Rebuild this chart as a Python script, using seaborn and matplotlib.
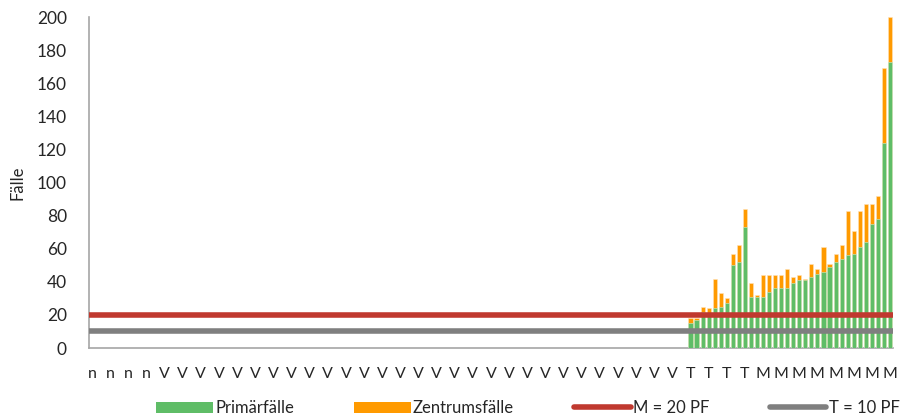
import numpy as np
import pandas as pd
import matplotlib
matplotlib.use("Agg")
import matplotlib.pyplot as plt
from matplotlib.patches import Patch
from matplotlib.lines import Line2D
import seaborn as sns

# Category groups along the x axis (one letter per site)
group_n = ["n"] * 12
group_v = ["V"] * 87
group_t = ["T"] * 12
group_m = ["M"] * 22
categories = group_n + group_v + group_t + group_m

# Case counts for the sites that report cases (T and M groups)
primaer = [15, 17, 22, 21, 24, 25, 27, 50, 52, 73, 31, 31,
           31, 34, 36, 36, 36, 39, 41, 41, 43, 45, 46, 49, 52, 54,
           56, 57, 61, 64, 75, 78, 124, 173]
zentrum = [3, 1, 3, 3, 18, 8, 3, 7, 10, 11, 8, 1,
           13, 10, 8, 8, 12, 4, 3, 1, 8, 3, 15, 2, 5, 8,
           27, 14, 22, 23, 12, 14, 45, 27]

schwelle_m = 20
schwelle_t = 10

yticks = list(range(0, 201, 20))

GREEN = "#5FBD67"
ORANGE = "#FF9A00"
RED = "#C0392F"
GREY = "#7F7F7F"

sns.set_theme(style="white")
plt.rcParams["font.family"] = ["Lato", "DejaVu Sans"]

n_cat = len(categories)
first = n_cat - len(primaer)
prim_full = np.zeros(n_cat)
zent_full = np.zeros(n_cat)
prim_full[first:] = primaer
zent_full[first:] = zentrum

df = pd.DataFrame({
    "pos": np.arange(n_cat),
    "Primärfälle": prim_full,
    "Gesamt": prim_full + zent_full,
})

fig = plt.figure(figsize=(9.1, 4.2), dpi=100)
ax = fig.add_axes([0.0978, 0.1714, 0.8835, 0.7881])

sns.barplot(data=df, x="pos", y="Gesamt", color=ORANGE, saturation=1,
            width=0.68, edgecolor="#FFE2B8", linewidth=0.4, ax=ax, zorder=2)
sns.barplot(data=df, x="pos", y="Primärfälle", color=GREEN, saturation=1,
            width=0.68, edgecolor="#CDEBCF", linewidth=0.4, ax=ax, zorder=3)

ax.axhline(schwelle_m, color=RED, lw=4, zorder=5)
ax.axhline(schwelle_t, color=GREY, lw=4, zorder=5)

ax.set_xlim(-0.5, n_cat - 0.5)
ax.set_ylim(0, 200)
ax.set_yticks(yticks)
ax.set_yticklabels([str(v) for v in yticks], fontsize=12.5)
tick_pos = list(range(0, n_cat, 3))
ax.set_xticks(tick_pos)
ax.set_xticklabels([categories[i] for i in tick_pos], fontsize=11.5)
ax.tick_params(axis="both", length=0)
ax.tick_params(axis="y", pad=16)
ax.tick_params(axis="x", pad=14)
ax.set_xlabel("")
ax.set_ylabel("Fälle", fontsize=12, labelpad=8)

for side in ("top", "right"):
    ax.spines[side].set_visible(False)
for side in ("left", "bottom"):
    ax.spines[side].set_color("#A6A6A6")
    ax.spines[side].set_linewidth(1.2)
ax.grid(False)

handles = [
    Patch(facecolor=GREEN, edgecolor="none"),
    Patch(facecolor=ORANGE, edgecolor="none"),
    Line2D([], [], color=RED, lw=4, solid_capstyle="round"),
    Line2D([], [], color=GREY, lw=4, solid_capstyle="round"),
]
labels = ["Primärfälle", "Zentrumsfälle",
          f"M = {schwelle_m} PF", f"T = {schwelle_t} PF"]
fig.legend(handles, labels, loc="center", bbox_to_anchor=(0.58, 0.028),
           ncol=4, frameon=False, fontsize=12, handlelength=3.4,
           handleheight=0.7, handletextpad=0.15, columnspacing=3.6)

fig.savefig("out.png", dpi=100)
